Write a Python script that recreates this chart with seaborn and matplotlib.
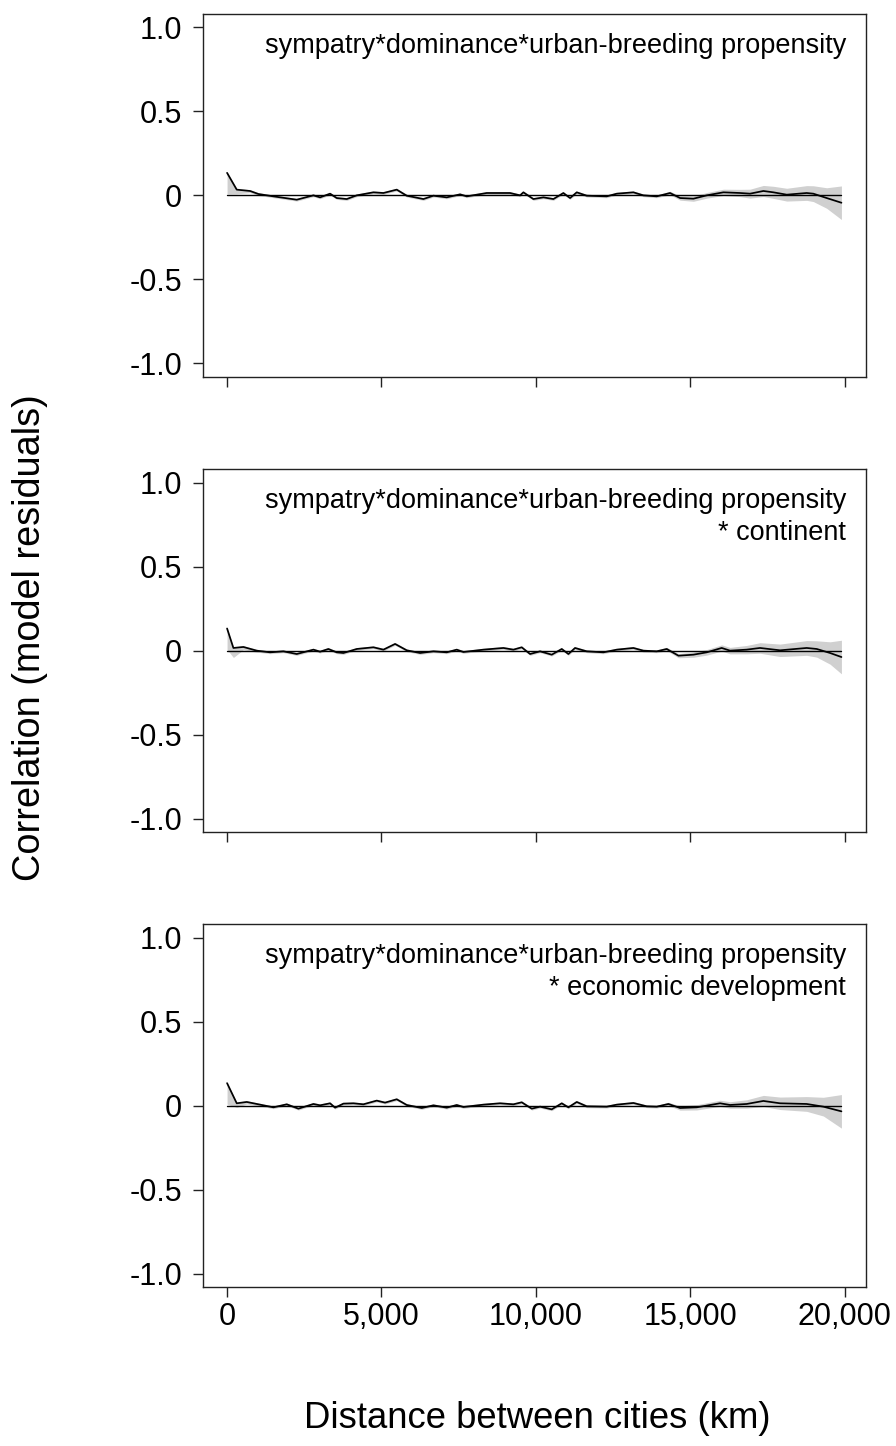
import numpy as np
import pandas as pd
import matplotlib
matplotlib.use("Agg")
import matplotlib.pyplot as plt
import seaborn as sns

# ---------------- data ----------------
p1_dist = [0, 313, 745, 1015, 1500, 2256, 2796, 3012, 3336, 3551, 3876, 4200, 4740, 5064,
           5495, 5819, 6359, 6683, 7115, 7547, 7763, 8410, 9166, 9490, 9598, 9922, 10246,
           10570, 10893, 11110, 11326, 11650, 12297, 12622, 13161, 13485, 13917, 14349,
           14673, 15105, 15537, 16077, 16617, 16940, 17372, 17696, 18128, 18775, 18990,
           19423, 19900]
p1_corr = [0.134, 0.034, 0.026, 0.008, -0.006, -0.026, 0.0, -0.012, 0.010, -0.016, -0.022,
           0.0, 0.018, 0.014, 0.034, -0.002, -0.022, -0.002, -0.012, 0.006, -0.006, 0.014,
           0.014, 0.0, 0.018, -0.022, -0.012, -0.022, 0.014, -0.016, 0.018, -0.002, -0.006,
           0.010, 0.018, 0.0, -0.006, 0.014, -0.016, -0.020, 0.0, 0.018, 0.014, 0.010,
           0.026, 0.018, 0.004, 0.014, 0.010, -0.016, -0.044]

p2_dist = [0, 205, 528, 960, 1392, 1824, 2256, 2796, 3012, 3281, 3551, 3768, 4200, 4740,
           5064, 5442, 5819, 6251, 6683, 7115, 7438, 7655, 8302, 8950, 9274, 9544, 9814,
           10138, 10516, 10840, 11056, 11271, 11650, 12190, 12622, 13161, 13485, 13917,
           14241, 14620, 15105, 15537, 16022, 16292, 16832, 17264, 17912, 18775, 19100,
           19532, 19900]
p2_corr = [0.132, 0.016, 0.022, 0.0, -0.010, -0.004, -0.020, 0.006, -0.006, 0.010, -0.010,
           -0.014, 0.010, 0.020, 0.006, 0.040, 0.002, -0.014, -0.004, -0.010, 0.006, -0.008,
           0.006, 0.016, 0.006, 0.020, -0.020, -0.004, -0.024, 0.010, -0.020, 0.016, -0.004,
           -0.010, 0.006, 0.016, 0.0, -0.004, 0.010, -0.030, -0.024, -0.010, 0.016, 0.0,
           0.006, 0.016, 0.002, 0.016, 0.010, -0.014, -0.038]

p3_dist = [0, 313, 637, 1015, 1500, 1932, 2310, 2796, 3012, 3336, 3498, 3768, 4092, 4415,
           4847, 5117, 5495, 5819, 6305, 6683, 7115, 7438, 7655, 8302, 8842, 9274, 9544,
           9869, 10138, 10516, 10840, 11056, 11326, 11650, 12297, 12622, 13161, 13593,
           13917, 14295, 14673, 15213, 15968, 16292, 16832, 17372, 17912, 18775, 19315,
           19900]
p3_corr = [0.134, 0.014, 0.022, 0.008, -0.010, 0.008, -0.018, 0.010, 0.002, 0.014, -0.012,
           0.012, 0.014, 0.008, 0.030, 0.018, 0.038, 0.004, -0.014, 0.002, -0.012, 0.004,
           -0.008, 0.006, 0.014, 0.008, 0.020, -0.018, -0.006, -0.022, 0.014, -0.010,
           0.022, -0.004, -0.006, 0.006, 0.016, -0.004, -0.006, 0.010, -0.014, -0.010,
           0.014, 0.004, 0.010, 0.028, 0.014, 0.010, -0.006, -0.034]

# grey confidence envelope, read at a few distances: distance above / below the curve
ci_dist = [0, 300, 700, 1200, 14000, 15000, 16500, 17500, 18500, 19200, 19600, 19900]
ci_upper = [0.004, 0.006, 0.008, 0.008, 0.008, 0.015, 0.020, 0.035, 0.040, 0.050, 0.070, 0.100]
ci_lower = [0.125, 0.025, 0.010, 0.008, 0.008, 0.015, 0.020, 0.035, 0.040, 0.050, 0.070, 0.100]

panel_titles = [["sympatry*dominance*urban-breeding propensity"],
                ["sympatry*dominance*urban-breeding propensity", "* continent"],
                ["sympatry*dominance*urban-breeding propensity", "* economic development"]]

y_ticks = [1.0, 0.5, 0.0, -0.5, -1.0]
y_tick_labels = ["1.0", "0.5", "0", "-0.5", "-1.0"]
x_ticks = [0, 5000, 10000, 15000, 20000]
x_tick_labels = ["0", "5,000", "10,000", "15,000", "20,000"]

# ---------------- figure ----------------
sns.set_style("ticks")
plt.rcParams['font.family'] = ['Liberation Sans', 'DejaVu Sans']
plt.rcParams['text.color'] = 'black'

fig = plt.figure(figsize=(8.96, 14.46), dpi=100)

W, H = 896, 1446
left_px, right_px = 202.5, 866
panel_tops = [14, 469.3, 924.3]
panel_h = 362.7

panels = [(p1_dist, p1_corr), (p2_dist, p2_corr), (p3_dist, p3_corr)]

for i, ((d, c), title_lines) in enumerate(zip(panels, panel_titles)):
    top = panel_tops[i]
    ax = fig.add_axes([left_px / W, 1 - (top + panel_h) / H,
                       (right_px - left_px) / W, panel_h / H])
    df = pd.DataFrame({"dist": d, "corr": c})
    up = np.interp(df["dist"], ci_dist, ci_upper)
    lo = np.interp(df["dist"], ci_dist, ci_lower)
    ax.fill_between(df["dist"], df["corr"] - lo, df["corr"] + up,
                    color="#d0d0d0", linewidth=0, zorder=1)
    ax.plot([0, 19900], [0, 0], color="black", lw=1.0, zorder=2)
    sns.lineplot(data=df, x="dist", y="corr", ax=ax, color="black", lw=1.25,
                 estimator=None, sort=False, zorder=3,
                 solid_joinstyle="round")

    ax.set_xlim(-796, 20696)
    ax.set_ylim(-1.08, 1.08)
    ax.set_yticks(y_ticks)
    ax.set_yticklabels(y_tick_labels)
    ax.set_xticks(x_ticks)
    if i == 2:
        ax.set_xticklabels(x_tick_labels)
    else:
        ax.set_xticklabels([])
    ax.set_xlabel("")
    ax.set_ylabel("")
    for s in ax.spines.values():
        s.set_visible(True)
        s.set_linewidth(1.0)
        s.set_color("#222222")
    ax.tick_params(axis="both", direction="out", length=7.5, width=1.0,
                   color="#222222", labelcolor="black", labelsize=22, pad=7)
    ax.tick_params(axis="x", pad=3)
    for k, line in enumerate(title_lines):
        ax.text(0.97, 1 - (39 + 32 * k) / panel_h, line, transform=ax.transAxes,
                ha="right", va="baseline", fontsize=19.5, color="black")

fig.text(30 / W, 1 - 638 / H, "Correlation (model residuals)", rotation=90,
         ha="center", va="center", fontsize=27.3, color="black")
fig.text(537 / W, 1 - 1418 / H, "Distance between cities (km)",
         ha="center", va="center", fontsize=26.3, color="black")

fig.savefig("out.png", dpi=100)
